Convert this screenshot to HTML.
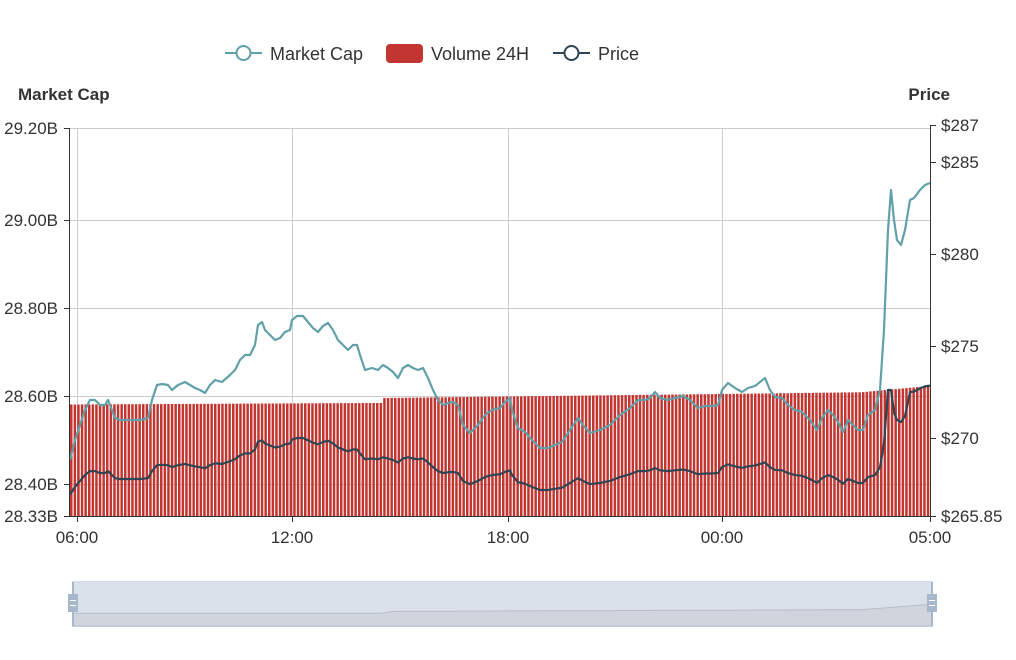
<!DOCTYPE html>
<html><head><meta charset="utf-8"><style>
html,body{margin:0;padding:0;background:#fff;}
svg{display:block;font-family:"Liberation Sans",sans-serif;}
</style></head><body>
<svg id="s" width="1016" height="660" viewBox="0 0 1016 660" xmlns="http://www.w3.org/2000/svg">
<rect width="1016" height="660" fill="#fff"/>
<g stroke="#ccc" stroke-width="1">
<line x1="70" y1="128.5" x2="930" y2="128.5"/>
<line x1="70" y1="220.5" x2="930" y2="220.5"/>
<line x1="70" y1="308.5" x2="930" y2="308.5"/>
<line x1="70" y1="396.5" x2="930" y2="396.5"/>
<line x1="70" y1="484.5" x2="930" y2="484.5"/>
<line x1="77.5" y1="128" x2="77.5" y2="516"/>
<line x1="292.5" y1="128" x2="292.5" y2="516"/>
<line x1="508.5" y1="128" x2="508.5" y2="516"/>
<line x1="722.5" y1="128" x2="722.5" y2="516"/>
</g>
<g id="bars" fill="#c23531"></g>
<path id="mc" fill="none" stroke="#61a0a8" stroke-width="2.2" stroke-linejoin="round"/>
<path id="pr" fill="none" stroke="#2f4554" stroke-width="2.2" stroke-linejoin="round"/>
<g stroke="#333" stroke-width="1">
<line x1="69.5" y1="128" x2="69.5" y2="517"/>
<line x1="930.5" y1="125" x2="930.5" y2="517"/>
<line x1="70" y1="516.5" x2="930" y2="516.5"/>
<line x1="64" y1="128.5" x2="70" y2="128.5"/><line x1="64" y1="220.5" x2="70" y2="220.5"/>
<line x1="64" y1="308.5" x2="70" y2="308.5"/><line x1="64" y1="396.5" x2="70" y2="396.5"/>
<line x1="64" y1="484.5" x2="70" y2="484.5"/><line x1="64" y1="516.5" x2="70" y2="516.5"/>
<line x1="930" y1="125.5" x2="936" y2="125.5"/><line x1="930" y1="162.5" x2="936" y2="162.5"/>
<line x1="930" y1="254.5" x2="936" y2="254.5"/><line x1="930" y1="346.5" x2="936" y2="346.5"/>
<line x1="930" y1="438.5" x2="936" y2="438.5"/><line x1="930" y1="516.5" x2="936" y2="516.5"/>
<line x1="77.5" y1="516" x2="77.5" y2="522"/><line x1="292.5" y1="516" x2="292.5" y2="522"/>
<line x1="508.5" y1="516" x2="508.5" y2="522"/><line x1="722.5" y1="516" x2="722.5" y2="522"/>
<line x1="930.5" y1="516" x2="930.5" y2="522"/>
</g>
<g font-size="17" fill="#333" text-anchor="end">
<text x="58" y="134">29.20B</text><text x="58" y="226">29.00B</text>
<text x="58" y="314">28.80B</text><text x="58" y="402">28.60B</text>
<text x="58" y="490">28.40B</text><text x="58" y="522">28.33B</text>
</g>
<g font-size="17" fill="#333">
<text x="941" y="131">$287</text><text x="941" y="168">$285</text>
<text x="941" y="260">$280</text><text x="941" y="352">$275</text>
<text x="941" y="444">$270</text><text x="941" y="522">$265.85</text>
</g>
<g font-size="17" fill="#333" text-anchor="middle">
<text x="77" y="543">06:00</text><text x="292" y="543">12:00</text>
<text x="508" y="543">18:00</text><text x="722" y="543">00:00</text>
<text x="930" y="543">05:00</text>
</g>
<text x="18" y="100" font-size="17" font-weight="bold" fill="#333">Market Cap</text>
<text x="950" y="100" font-size="17" font-weight="bold" fill="#333" text-anchor="end">Price</text>
<line x1="225" y1="53" x2="262" y2="53" stroke="#61a0a8" stroke-width="2"/>
<circle cx="243.5" cy="53" r="7" fill="#fff" stroke="#61a0a8" stroke-width="2"/>
<text x="270" y="60" font-size="18" fill="#333">Market Cap</text>
<rect x="386" y="44" width="37" height="19" rx="4" fill="#c23531"/>
<text x="431" y="60" font-size="18" fill="#333">Volume 24H</text>
<line x1="553" y1="53" x2="590" y2="53" stroke="#2f4554" stroke-width="2"/>
<circle cx="571.5" cy="53" r="7" fill="#fff" stroke="#2f4554" stroke-width="2"/>
<text x="598" y="60" font-size="18" fill="#333">Price</text>
<rect x="72.5" y="581.5" width="860" height="45" fill="#fff" stroke="#d2dbee"/>
<rect x="73" y="582" width="859" height="44" fill="#dbe1ea"/>
<path id="dz" fill="#d0d5dd" stroke="#b8bec8" stroke-width="1"/>
<rect x="72" y="582" width="2" height="44" fill="#a7b7cc"/>
<rect x="931" y="582" width="2" height="44" fill="#a7b7cc"/>
<rect x="68" y="594" width="10" height="18" fill="#a7b7cc"/>
<rect x="927" y="594" width="10" height="18" fill="#a7b7cc"/>
<g stroke="#fff" stroke-width="1"><line x1="70" y1="600.5" x2="76" y2="600.5"/><line x1="70" y1="605.5" x2="76" y2="605.5"/>
<line x1="929" y1="600.5" x2="935" y2="600.5"/><line x1="929" y1="605.5" x2="935" y2="605.5"/></g>
</svg>
<script>
var m=[[70,460],[75,440],[80,425],[85,410],[90,400],[95,400],[100,405],[105,405],[108,400],[112,410],[115,418],[120,420],[130,420],[140,420],[148,418],[152,400],[157,385],[162,384],[168,385],[172,390],[178,385],[185,382],[190,385],[195,388],[200,390],[205,393],[210,385],[215,380],[222,382],[230,375],[235,370],[240,360],[245,355],[250,355],[255,345],[258,325],[262,322],[265,330],[270,335],[275,340],[280,338],[285,332],[290,330],[292,320],[297,316],[303,316],[308,322],[313,328],[318,332],[323,326],[328,323],[333,330],[338,340],[343,345],[348,350],[353,345],[357,345],[360,355],[365,370],[372,368],[378,370],[383,365],[388,368],[393,372],[398,378],[403,368],[408,365],[413,368],[418,370],[423,368],[428,378],[433,390],[438,400],[443,405],[448,403],[453,402],[458,405],[463,425],[470,433],[478,425],[485,415],[492,410],[500,408],[505,402],[510,398],[512,410],[518,428],[525,432],[532,440],[540,448],[548,448],[555,445],[562,442],[570,430],[578,418],[583,425],[590,433],[600,430],[610,425],[620,415],[630,408],[638,400],[645,400],[650,398],[655,392],[660,398],[668,400],[675,398],[683,396],[690,400],[698,408],[705,406],[712,406],[718,405],[722,390],[728,383],[735,388],[742,392],[748,388],[755,386],[760,382],[765,378],[770,390],[775,397],[782,398],[788,405],[795,410],[802,412],[810,420],[817,430],[822,418],[828,410],[833,415],[838,422],[843,432],[848,420],[853,425],[858,430],[863,430],[868,415],[875,410],[880,390],[884,330],[888,230],[891,190],[894,220],[897,240],[901,245],[905,230],[910,200],[914,198],[920,190],[925,185],[930,183]];
function P(a){return a.map(function(p,i){return(i?'L':'M')+p[0]+' '+p[1]}).join('');}
document.getElementById('mc').setAttribute('d',P(m));
var pr=m.map(function(p){var y=0.394*p[1]+313.5;if(p[0]>=888&&p[0]<=891)y=390;if(p[0]>=894&&p[0]<=905)y=y+12;return[p[0],y];});
document.getElementById('pr').setAttribute('d',P(pr));
var g=document.getElementById('bars'),h='';
for(var x=70;x<930;x+=3.6){var t;if(x<383)t=404.5-(x-70)*0.005;else t=398-(x-383)*0.012;if(x>860)t-=(x-860)*0.08;
h+='<rect x="'+x.toFixed(1)+'" y="'+t.toFixed(1)+'" width="2.5" height="'+(516-t).toFixed(1)+'"/>';}
g.innerHTML=h;
var dz=[];for(var x=70;x<=930;x+=10){var t=x<383?404:(398-(x-383)*0.012);if(x>860)t-=(x-860)*0.25;dz.push([73+(x-70)*859/860,582+(t-300)*0.3]);}
document.getElementById('dz').setAttribute('d','M73 626'+dz.map(function(p){return'L'+p[0].toFixed(1)+' '+p[1].toFixed(1)}).join('')+'L932 626Z');
</script>
</body></html>
